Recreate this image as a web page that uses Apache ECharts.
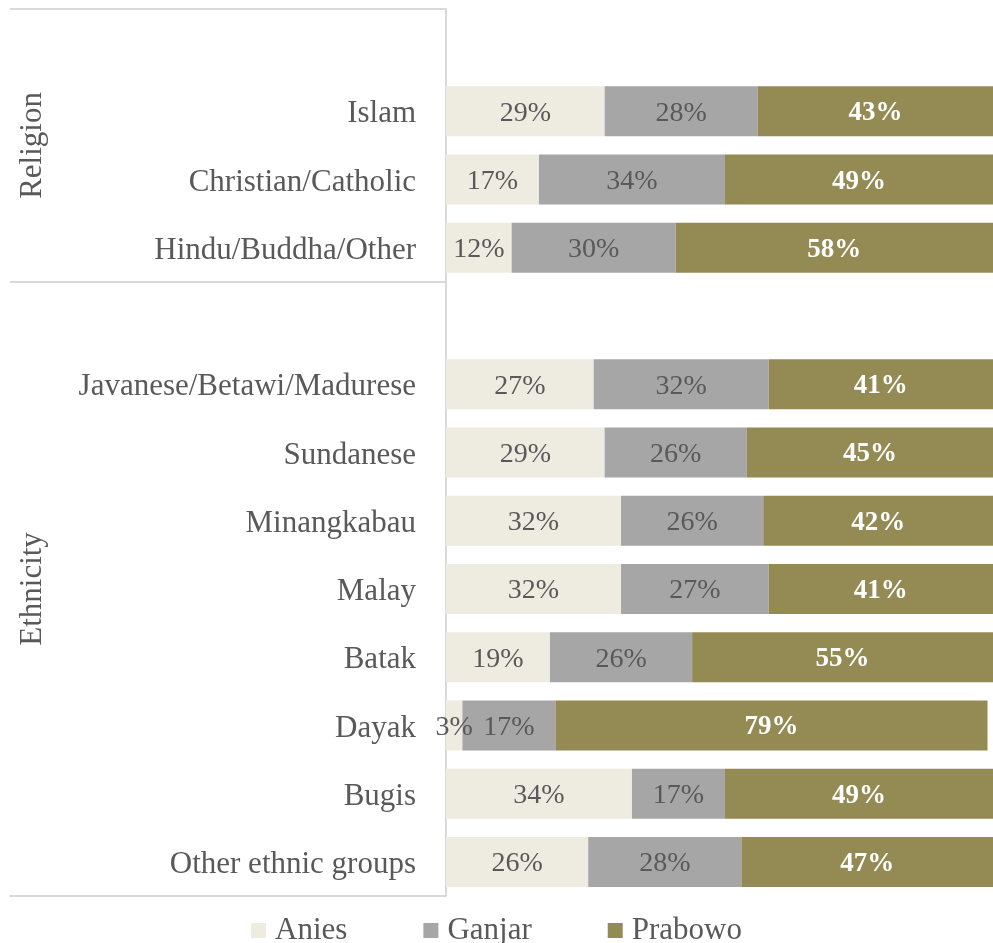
<!DOCTYPE html>
<html>
<head>
<meta charset="utf-8">
<title>Vote share by religion and ethnicity</title>
<script src="https://cdn.jsdelivr.net/npm/echarts@6/dist/echarts.min.js"></script>
<style>
	html, body { margin: 0; padding: 0; background: #fff; }
	#chartBar { width: 993px; height: 943px; }
</style>
</head>
<body>
<div id="chartBar"></div>
<script>
/*******************************/
/*data*/
/*******************************/
var categories = ['', 'Islam', 'Christian/Catholic', 'Hindu/Buddha/Other', '',
	'Javanese/Betawi/Madurese', 'Sundanese', 'Minangkabau', 'Malay', 'Batak',
	'Dayak', 'Bugis', 'Other ethnic groups'];
var seriesNames = ['Anies', 'Ganjar', 'Prabowo'];
var anies = [null, 29, 17, 12, null, 27, 29, 32, 32, 19, 3, 34, 26];
var ganjar = [null, 28, 34, 30, null, 32, 26, 26, 27, 26, 17, 17, 28];
var prabowo = [null, 43, 49, 58, null, 41, 45, 42, 41, 55, 79, 49, 47];
//group labels on the left and the first row of each group
var groupNames = ['Religion', 'Ethnicity'];
var groupStarts = [0, 4];

var FONT = 'Liberation Serif';
var TEXT = '#595959';
var LINE = '#d9d9d9';
var colors = ['#eeece1', '#a6a6a6', '#948a54'];

/*******************************/
/*run on load*/
/*******************************/
window.onload = function () {
	var chart = echarts.init(document.getElementById('chartBar'));
	chart.setOption(buildOption());
	drawGroups(chart);
};

/*
**build the stacked bar option
*/
function buildOption() {
	var values = [anies, ganjar, prabowo];
	return {
		backgroundColor: '#fff',
		animation: false,
		textStyle: { fontFamily: FONT },
		grid: { left: 446, right: 0, top: 9, bottom: 47, containLabel: false },
		legend: {
			top: 910,
			left: 'center',
			itemWidth: 15,
			itemHeight: 15,
			itemGap: 76,
			icon: 'rect',
			textStyle: { fontFamily: FONT, fontSize: 31, color: TEXT, padding: [0, 0, 0, 4] },
			data: seriesNames
		},
		xAxis: {
			type: 'value',
			min: 0,
			max: 100,
			show: false
		},
		yAxis: {
			type: 'category',
			inverse: true,
			data: categories,
			axisLine: { show: true, lineStyle: { color: LINE, width: 2 } },
			axisTick: { show: false },
			axisLabel: {
				margin: 30,
				formatter: function (v) { return v ? '{c|' + v + '}' : ''; },
				rich: {
					c: { fontFamily: FONT, fontSize: 31, color: TEXT, padding: [6, 0, 0, 0] }
				}
			}
		},
		series: seriesNames.map(function (name, i) {
			return {
				name: name,
				type: 'bar',
				stack: 'all',
				barWidth: 50,
				itemStyle: { color: colors[i] },
				label: {
					show: true,
					position: 'inside',
					offset: [0, 2],
					fontFamily: FONT,
					fontSize: i === 2 ? 27 : 28,
					color: i === 2 ? '#fff' : TEXT,
					fontWeight: i === 2 ? 'bold' : 'normal',
					formatter: function (p) { return p.value == null ? '' : p.value + '%'; }
				},
				data: values[i]
			};
		})
	};
}

/*
**draw the group dividers and rotated group names from the axis scale
*/
function drawGroups(chart) {
	var y0 = chart.convertToPixel({ yAxisIndex: 0 }, 0);
	var y1 = chart.convertToPixel({ yAxisIndex: 0 }, 1);
	var band = y1 - y0;
	var axisX = chart.convertToPixel({ xAxisIndex: 0 }, 0);
	var edges = groupStarts.map(function (s) { return y0 + (s - 0.5) * band; });
	edges.push(y0 + (categories.length - 0.5) * band);
	var elements = [];
	edges.forEach(function (y) {
		elements.push({
			type: 'line',
			shape: { x1: 10, y1: y, x2: axisX, y2: y },
			style: { stroke: LINE, lineWidth: 2 }
		});
	});
	groupNames.forEach(function (name, i) {
		elements.push({
			type: 'text',
			x: 33,
			y: (edges[i] + edges[i + 1]) / 2,
			rotation: Math.PI / 2,
			style: {
				text: name,
				fontFamily: FONT,
				fontSize: 31,
				fill: TEXT,
				align: 'center',
				verticalAlign: 'middle'
			}
		});
	});
	chart.setOption({ graphic: elements });
}
</script>
</body>
</html>
